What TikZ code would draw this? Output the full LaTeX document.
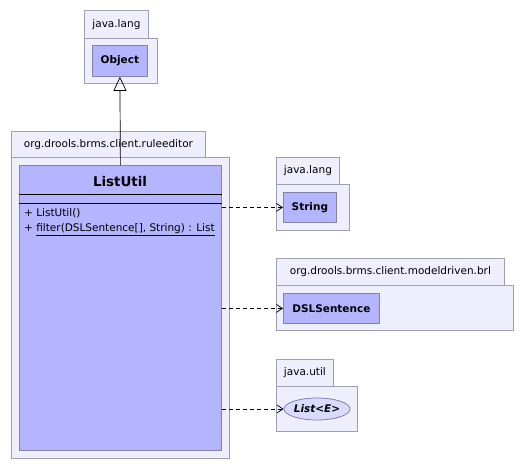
\documentclass[tikz,border=0pt]{standalone}
\usepackage{fontspec}
\setmainfont{DejaVu Sans}
\usetikzlibrary{arrows.meta,shapes.geometric}
\definecolor{pkgfill}{RGB}{238,238,252}
\definecolor{pkgline}{RGB}{160,160,180}
\definecolor{clsfill}{RGB}{180,180,255}
\definecolor{clsline}{RGB}{130,130,170}
\definecolor{ellfill}{RGB}{218,218,252}
\begin{document}
\begin{tikzpicture}[x=1pt,y=-1pt,
  pkg/.style={draw=pkgline, fill=pkgfill, line width=0.8pt, inner sep=0pt, anchor=north west},
  tab/.style={pkg, font=\fontsize{10.5}{12}\selectfont},
  cls/.style={draw=clsline, fill=clsfill, line width=0.8pt, inner sep=0pt, anchor=north west, font=\fontsize{10.5}{12}\selectfont\bfseries},
  member/.style={anchor=west, inner sep=0pt, font=\fontsize{10.5}{12}\selectfont},
  dep/.style={dash pattern=on 4pt off 3pt, -{Straight Barb[length=6pt,width=8pt]}, line width=0.7pt},
  gen/.style={-{Triangle[open,length=14pt,width=13pt]}, line width=0.7pt}
]
\useasboundingbox[fill=white] (0,0) rectangle (525,469);

% java.lang (Object)
\node[tab, minimum width=64pt, minimum height=28pt] (p1tab) at (84,10) {java.lang};
\node[pkg, minimum width=73pt, minimum height=45pt] (p1) at (84,38) {};
\node[cls, minimum width=55pt, minimum height=31pt] (obj) at (92,45) {Object};

% ruleeditor
\node[tab, minimum width=194pt, minimum height=26pt] (p2tab) at (11,131) {org.drools.brms.client.ruleeditor};
\node[pkg, minimum width=218pt, minimum height=301pt] (p2) at (11,157) {};
\node[cls, minimum width=202pt, minimum height=285pt] (lu) at (19,165) {};
\node[font=\fontsize{13.4}{15}\selectfont\bfseries, inner sep=0pt] (lutitle) at (120,182) {ListUtil};
\draw[line width=0.8pt] ([yshift=-29pt]lu.north west) -- ([yshift=-29pt]lu.north east);
\draw[line width=0.8pt] ([yshift=-38pt]lu.north west) -- ([yshift=-38pt]lu.north east);
\node[member] (m1) at (24,213) {+ ListUtil()};
\node[member] (m2) at (24,230) {+ \underline{filter(DSLSentence[], String) : List}};

% java.lang (String)
\node[tab, minimum width=63pt, minimum height=27pt] (p3tab) at (276,157) {java.lang};
\node[pkg, minimum width=73pt, minimum height=46pt] (p3) at (276,184) {};
\node[cls, minimum width=53pt, minimum height=30pt] (str) at (283,192) {String};

% modeldriven.brl
\node[tab, minimum width=228pt, minimum height=27pt] (p4tab) at (276,258) {org.drools.brms.client.modeldriven.brl};
\node[pkg, minimum width=237pt, minimum height=45pt] (p4) at (276,285) {};
\node[cls, minimum width=96pt, minimum height=30pt] (dsl) at (283,293) {DSLSentence};

% java.util
\node[tab, minimum width=57pt, minimum height=27pt] (p5tab) at (276,359) {java.util};
\node[pkg, minimum width=81pt, minimum height=45pt] (p5) at (276,386) {};
\node[ellipse, draw=clsline, fill=ellfill, line width=0.8pt, inner sep=0pt, minimum width=66pt, minimum height=22pt, font=\fontsize{10.5}{12}\selectfont\bfseries\itshape] (lst) at (317,409) {List<E>};

% connectors
\draw[gen] (lu.north) -- (obj.south);
\draw[dep] (lu.east |- str.west) -- (str.west);
\draw[dep] (lu.east |- dsl.west) -- (dsl.west);
\draw[dep] (lu.east |- lst.west) -- (lst.west);
\end{tikzpicture}
\end{document}
